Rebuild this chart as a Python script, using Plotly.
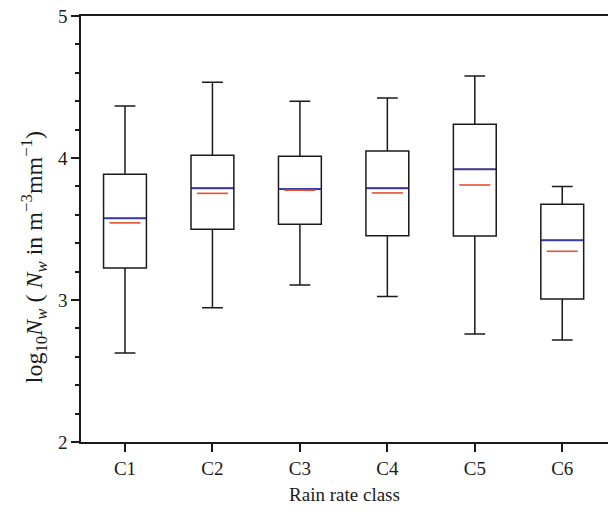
import plotly.graph_objects as go

categories = ["C1", "C2", "C3", "C4", "C5", "C6"]
upper_whisker = [4.366, 4.533, 4.399, 4.423, 4.577, 3.80]
q3_values = [3.885, 4.019, 4.012, 4.05, 4.237, 3.674]
median_values = [3.575, 3.787, 3.782, 3.787, 3.92, 3.42]
mean_values = [3.543, 3.751, 3.773, 3.754, 3.81, 3.343]
q1_values = [3.225, 3.498, 3.533, 3.453, 3.451, 3.007]
lower_whisker = [2.627, 2.946, 3.106, 3.024, 2.76, 2.718]

positions = list(range(len(categories)))
box_width = 0.49
mean_width = 0.355

FONT = "Liberation Serif, Times New Roman, serif"

fig = go.Figure()
fig.add_trace(go.Box(
    x=positions,
    q1=q1_values, median=median_values, q3=q3_values,
    lowerfence=lower_whisker, upperfence=upper_whisker,
    width=box_width, whiskerwidth=0.485,
    line=dict(color="#1a1a1a", width=1.5),
    fillcolor="rgba(255,255,255,0)",
    boxpoints=False, showlegend=False, hoverinfo="skip",
))

def seg(vals, w):
    xs, ys = [], []
    for p, v in zip(positions, vals):
        xs += [p - w / 2, p + w / 2, None]
        ys += [v, v, None]
    return xs, ys

mx, my = seg(median_values, box_width - 0.02)
fig.add_trace(go.Scatter(x=mx, y=my, mode="lines",
                         line=dict(color="#3c3ca8", width=1.8),
                         showlegend=False, hoverinfo="skip"))
ex, ey = seg(mean_values, mean_width)
fig.add_trace(go.Scatter(x=ex, y=ey, mode="lines",
                         line=dict(color="#e8502f", width=1.6),
                         showlegend=False, hoverinfo="skip"))

fig.update_layout(
    width=608, height=513,
    margin=dict(l=81, r=0, t=16, b=71),
    plot_bgcolor="white", paper_bgcolor="white",
    font=dict(family=FONT, size=19, color="#1a1a1a"),
    showlegend=False,
)
fig.add_annotation(
    text="log<sub>10</sub><i>N<sub>w</sub></i> ( <i>N<sub>w</sub></i> in m<sup>−3</sup>mm<sup>−1</sup>)",
    textangle=-90, xref="paper", yref="paper", x=-0.089, y=0.434,
    xanchor="center", yanchor="middle", showarrow=False,
    font=dict(family=FONT, size=24, color="#1a1a1a"),
)
fig.update_xaxes(
    range=[-0.503, 5.523], automargin=False,
    tickmode="array", tickvals=positions, ticktext=categories,
    ticks="outside", ticklen=8, tickwidth=1.5, tickcolor="#1a1a1a",
    tickfont=dict(size=19),
    showline=True, linecolor="#1a1a1a", linewidth=1.5, mirror=True,
    showgrid=False, zeroline=False,
    title=dict(text="Rain rate class", font=dict(size=19), standoff=10),
)
fig.update_yaxes(
    range=[2, 5], dtick=1, tick0=2, automargin=False,
    ticks="outside", ticklen=8, tickwidth=1.5, tickcolor="#1a1a1a",
    tickfont=dict(size=19),
    minor=dict(dtick=0.2, ticks="outside", ticklen=4, tickwidth=1.5, tickcolor="#1a1a1a", showgrid=False),
    showline=True, linecolor="#1a1a1a", linewidth=1.5, mirror=False,
    showgrid=False, zeroline=False,
)

fig.write_html("out.html", config={"displayModeBar": False},
               post_script="document.body.style.margin='0';")
